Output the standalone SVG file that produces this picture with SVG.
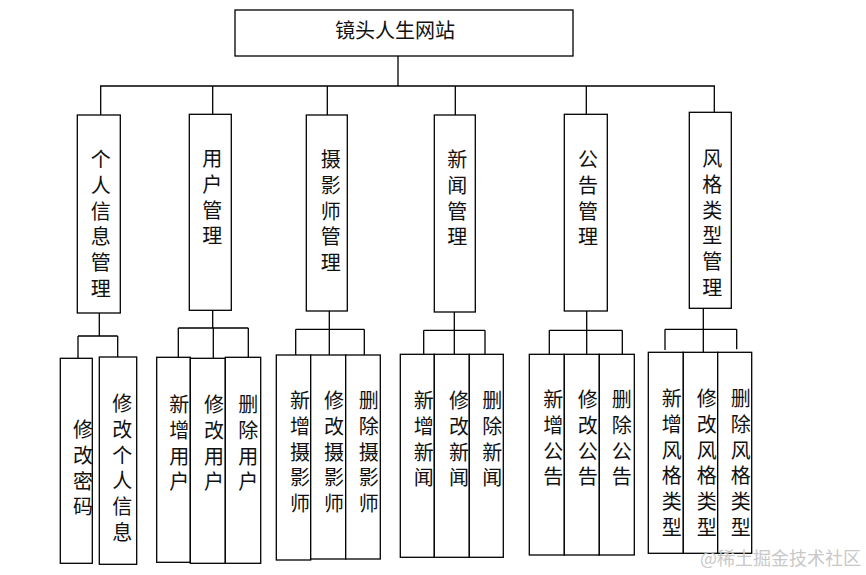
<svg xmlns="http://www.w3.org/2000/svg" width="866" height="575" viewBox="0 0 866 575">
<style>
.b{fill:#fff;stroke:#000;stroke-width:1.3}
.c{fill:none;stroke:#000;stroke-width:1.3}
.t{font-family:"Noto Sans CJK SC","Noto Sans CJK JP",sans-serif;font-size:20px;text-anchor:middle;fill:#111}
.w{font-family:"Noto Sans CJK SC",sans-serif;font-size:18px;fill:#c8c8c8}
</style>
<rect width="866" height="575" fill="#fff"/>
<g id="connectors">
<path class="c" d="M398,56V86M100,86H715M100.7,86V115M212.7,86V114.3M327.3,86V115M455.3,86V115M586.3,86V114.3M714.3,86V112.3"/>
<path class="c" d="M99.3,313V336M78,336H117.7M78,336V358.3M117.7,336V357"/>
<path class="c" d="M212.7,310.3V328M178.3,328H248.3M178.3,328V357.3M213.3,328V358.3M248.3,328V357.3"/>
<path class="c" d="M329.3,311V355M295.7,329.3H364.3M295.7,329.3V355M364.3,329.3V355"/>
<path class="c" d="M454.3,312V354.3M423.7,330.3H485M423.7,330.3V354.3M485,330.3V354.3"/>
<path class="c" d="M586.7,311V354.3M549.3,330.3H622.3M549.3,330.3V354.3M622.3,330.3V354.3"/>
<path class="c" d="M703.3,308.3V352.3M665,329.3H736.7M665,329.3V350M736.7,329.3V349.3"/>
</g>
<g id="root">
<rect class="b" x="235" y="10" width="338" height="46"/>
<text class="t" x="395" y="38">镜头人生网站</text>
</g>
<g id="n1">
<rect class="b" x="77.3" y="115" width="43" height="198"/>
<text class="t"><tspan x="100.7" y="167">个</tspan><tspan x="100.7" y="192.8">人</tspan><tspan x="100.7" y="218.6">信</tspan><tspan x="100.7" y="244.4">息</tspan><tspan x="100.7" y="270.2">管</tspan><tspan x="100.7" y="296">理</tspan></text>
</g>
<g id="n2">
<rect class="b" x="189.3" y="114.3" width="42" height="196"/>
<text class="t"><tspan x="212.3" y="166">用</tspan><tspan x="212.3" y="191.8">户</tspan><tspan x="212.3" y="217.6">管</tspan><tspan x="212.3" y="243.4">理</tspan></text>
</g>
<g id="n3">
<rect class="b" x="306.3" y="115" width="41" height="196"/>
<text class="t"><tspan x="330.7" y="167">摄</tspan><tspan x="330.7" y="192.8">影</tspan><tspan x="330.7" y="218.6">师</tspan><tspan x="330.7" y="244.4">管</tspan><tspan x="330.7" y="270.2">理</tspan></text>
</g>
<g id="n4">
<rect class="b" x="434.3" y="115" width="41" height="197"/>
<text class="t"><tspan x="457.3" y="167">新</tspan><tspan x="457.3" y="192.8">闻</tspan><tspan x="457.3" y="218.6">管</tspan><tspan x="457.3" y="244.4">理</tspan></text>
</g>
<g id="n5">
<rect class="b" x="564.3" y="114.3" width="43" height="196.7"/>
<text class="t"><tspan x="588" y="167">公</tspan><tspan x="588" y="192.8">告</tspan><tspan x="588" y="218.6">管</tspan><tspan x="588" y="244.4">理</tspan></text>
</g>
<g id="n6">
<rect class="b" x="689.3" y="112.3" width="42" height="196"/>
<text class="t"><tspan x="712.3" y="166">风</tspan><tspan x="712.3" y="191.8">格</tspan><tspan x="712.3" y="217.6">类</tspan><tspan x="712.3" y="243.4">型</tspan><tspan x="712.3" y="269.2">管</tspan><tspan x="712.3" y="295">理</tspan></text>
</g>
<g id="n1a">
<rect class="b" x="60.3" y="358.3" width="32" height="205"/>
<text class="t"><tspan x="83" y="437">修</tspan><tspan x="83" y="462.8">改</tspan><tspan x="83" y="488.6">密</tspan><tspan x="83" y="514.4">码</tspan></text>
</g>
<g id="n1b">
<rect class="b" x="99.3" y="357" width="37.4" height="207.3"/>
<text class="t"><tspan x="122.3" y="411">修</tspan><tspan x="122.3" y="436.8">改</tspan><tspan x="122.3" y="462.6">个</tspan><tspan x="122.3" y="488.4">人</tspan><tspan x="122.3" y="514.2">信</tspan><tspan x="122.3" y="540">息</tspan></text>
</g>
<g id="n2a">
<rect class="b" x="156.7" y="357.3" width="33.6" height="205"/>
<text class="t"><tspan x="179.3" y="412">新</tspan><tspan x="179.3" y="437.8">增</tspan><tspan x="179.3" y="463.6">用</tspan><tspan x="179.3" y="489.4">户</tspan></text>
</g>
<g id="n2b">
<rect class="b" x="190.3" y="358.3" width="35" height="205"/>
<text class="t"><tspan x="214" y="412">修</tspan><tspan x="214" y="437.8">改</tspan><tspan x="214" y="463.6">用</tspan><tspan x="214" y="489.4">户</tspan></text>
</g>
<g id="n2c">
<rect class="b" x="225.3" y="357.3" width="35.4" height="206"/>
<text class="t"><tspan x="248.3" y="412">删</tspan><tspan x="248.3" y="437.8">除</tspan><tspan x="248.3" y="463.6">用</tspan><tspan x="248.3" y="489.4">户</tspan></text>
</g>
<g id="n3a">
<rect class="b" x="276.3" y="355" width="34.4" height="205"/>
<text class="t"><tspan x="300" y="408">新</tspan><tspan x="300" y="433.8">增</tspan><tspan x="300" y="459.6">摄</tspan><tspan x="300" y="485.4">影</tspan><tspan x="300" y="511.2">师</tspan></text>
</g>
<g id="n3b">
<rect class="b" x="310.7" y="355" width="35" height="204"/>
<text class="t"><tspan x="334" y="408">修</tspan><tspan x="334" y="433.8">改</tspan><tspan x="334" y="459.6">摄</tspan><tspan x="334" y="485.4">影</tspan><tspan x="334" y="511.2">师</tspan></text>
</g>
<g id="n3c">
<rect class="b" x="345.7" y="355" width="34.6" height="204"/>
<text class="t"><tspan x="368.7" y="408">删</tspan><tspan x="368.7" y="433.8">除</tspan><tspan x="368.7" y="459.6">摄</tspan><tspan x="368.7" y="485.4">影</tspan><tspan x="368.7" y="511.2">师</tspan></text>
</g>
<g id="n4a">
<rect class="b" x="400.3" y="354.3" width="34" height="203"/>
<text class="t"><tspan x="423.7" y="408">新</tspan><tspan x="423.7" y="433.8">增</tspan><tspan x="423.7" y="459.6">新</tspan><tspan x="423.7" y="485.4">闻</tspan></text>
</g>
<g id="n4b">
<rect class="b" x="434.3" y="354.3" width="35" height="203"/>
<text class="t"><tspan x="459" y="408">修</tspan><tspan x="459" y="433.8">改</tspan><tspan x="459" y="459.6">新</tspan><tspan x="459" y="485.4">闻</tspan></text>
</g>
<g id="n4c">
<rect class="b" x="469.3" y="354.3" width="34" height="203"/>
<text class="t"><tspan x="492.3" y="408">删</tspan><tspan x="492.3" y="433.8">除</tspan><tspan x="492.3" y="459.6">新</tspan><tspan x="492.3" y="485.4">闻</tspan></text>
</g>
<g id="n5a">
<rect class="b" x="529.3" y="354.3" width="35" height="200.7"/>
<text class="t"><tspan x="553.3" y="407">新</tspan><tspan x="553.3" y="432.8">增</tspan><tspan x="553.3" y="458.6">公</tspan><tspan x="553.3" y="484.4">告</tspan></text>
</g>
<g id="n5b">
<rect class="b" x="564.3" y="354.3" width="35" height="200.7"/>
<text class="t"><tspan x="587.7" y="407">修</tspan><tspan x="587.7" y="432.8">改</tspan><tspan x="587.7" y="458.6">公</tspan><tspan x="587.7" y="484.4">告</tspan></text>
</g>
<g id="n5c">
<rect class="b" x="599.3" y="354.3" width="35" height="200.7"/>
<text class="t"><tspan x="621.7" y="407">删</tspan><tspan x="621.7" y="432.8">除</tspan><tspan x="621.7" y="458.6">公</tspan><tspan x="621.7" y="484.4">告</tspan></text>
</g>
<g id="n6a">
<rect class="b" x="648.3" y="352.3" width="35" height="201"/>
<text class="t"><tspan x="671.7" y="406">新</tspan><tspan x="671.7" y="431.8">增</tspan><tspan x="671.7" y="457.6">风</tspan><tspan x="671.7" y="483.4">格</tspan><tspan x="671.7" y="509.2">类</tspan><tspan x="671.7" y="535">型</tspan></text>
</g>
<g id="n6b">
<rect class="b" x="683.3" y="352.3" width="34.4" height="201"/>
<text class="t"><tspan x="706.7" y="406">修</tspan><tspan x="706.7" y="431.8">改</tspan><tspan x="706.7" y="457.6">风</tspan><tspan x="706.7" y="483.4">格</tspan><tspan x="706.7" y="509.2">类</tspan><tspan x="706.7" y="535">型</tspan></text>
</g>
<g id="n6c">
<rect class="b" x="717.7" y="352.3" width="34" height="201"/>
<text class="t"><tspan x="740.7" y="406">删</tspan><tspan x="740.7" y="431.8">除</tspan><tspan x="740.7" y="457.6">风</tspan><tspan x="740.7" y="483.4">格</tspan><tspan x="740.7" y="509.2">类</tspan><tspan x="740.7" y="535">型</tspan></text>
</g>
<text class="w" x="700" y="565">@稀土掘金技术社区</text>
</svg>
